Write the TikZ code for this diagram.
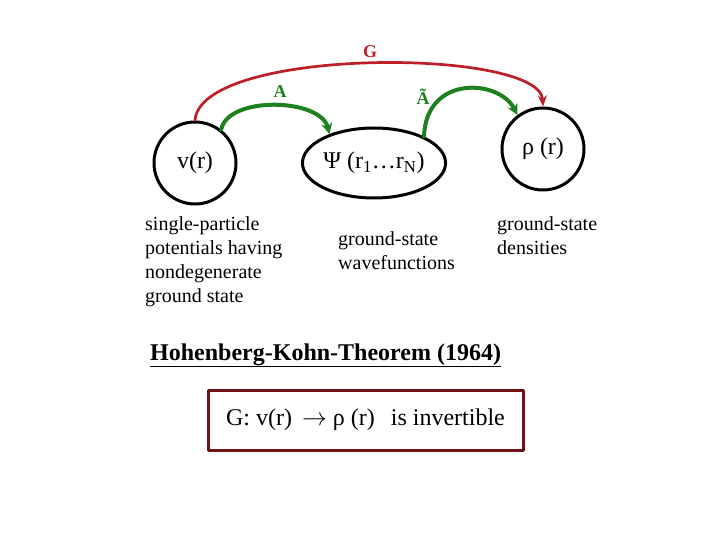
\documentclass[tikz,border=0pt]{standalone}
\usepackage{fontspec}
\setmainfont{Liberation Serif}
\usepackage{xcolor}
\usetikzlibrary{arrows.meta,shapes.geometric}
\definecolor{arcred}{RGB}{190,30,40}
\definecolor{arcgreen}{RGB}{30,128,30}
\definecolor{boxred}{RGB}{112,18,20}
\tikzset{
  every picture/.style={line join=round, line cap=round, >=Stealth},
  state/.style={draw=black, line width=3pt, inner sep=0pt, font=\fontsize{24}{28}\selectfont},
  note/.style={font=\fontsize{20}{24}\selectfont, align=left, anchor=north west, inner sep=0pt},
  redarc/.style={draw=arcred, line width=2.7pt, -{Stealth[length=11pt,width=9pt]}},
  greenarc/.style={draw=arcgreen, line width=4pt, -{Stealth[length=11pt,width=11pt]}},
  arclabel/.style={font=\fontsize{18}{20}\selectfont\bfseries},
}

\begin{document}
\begin{tikzpicture}[x=1pt,y=1pt]
\useasboundingbox (0,0) rectangle (720,-540);
% the three sets
\node[state,circle,minimum size=82pt](v) at (195,-163){v(r)};
\node[state,ellipse,minimum width=142pt,minimum height=70pt](psi) at (374,-163){Ψ (r\textsubscript{1}…r\textsubscript{N})};
\node[state,circle,minimum size=82pt](rho) at (543,-149){ρ (r)};
% maps
\draw[redarc](v.north) .. controls +(5,74) and +(-3,59) .. (rho.north);
\draw[greenarc](v.52) .. controls +(7,34) and +(-9,36) .. (psi.147);
\draw[greenarc](psi.28) .. controls +(2,62) and +(-18,36) .. (rho.127);
\node[arclabel,text=arcred](glabel) at (370,-52){G};
\node[arclabel,text=arcgreen](alabel) at (280,-92){A};
\node[arclabel,text=arcgreen](atlabel) at (423,-97){Ã};
% descriptions
\node[note](vtext) at (145,-216){single-particle\\potentials having\\nondegenerate\\ground state};
\node[note](psitext) at (338,-231){ground-state\\wavefunctions};
\node[note](rhotext) at (497,-216){ground-state\\densities};
% theorem
\node[font=\fontsize{24}{28}\selectfont\bfseries,anchor=base west,inner sep=0pt](hk) at (150,-360){\underline{Hohenberg-Kohn-Theorem (1964)}};
\node[draw=boxred,line width=3pt,minimum width=315pt,minimum height=60pt,inner sep=0pt,font=\fontsize{24}{28}\selectfont](inv) at (365.5,-420){G: v(r) \,$\rightarrow$ ρ (r) \ \,is invertible};
\end{tikzpicture}
\end{document}
